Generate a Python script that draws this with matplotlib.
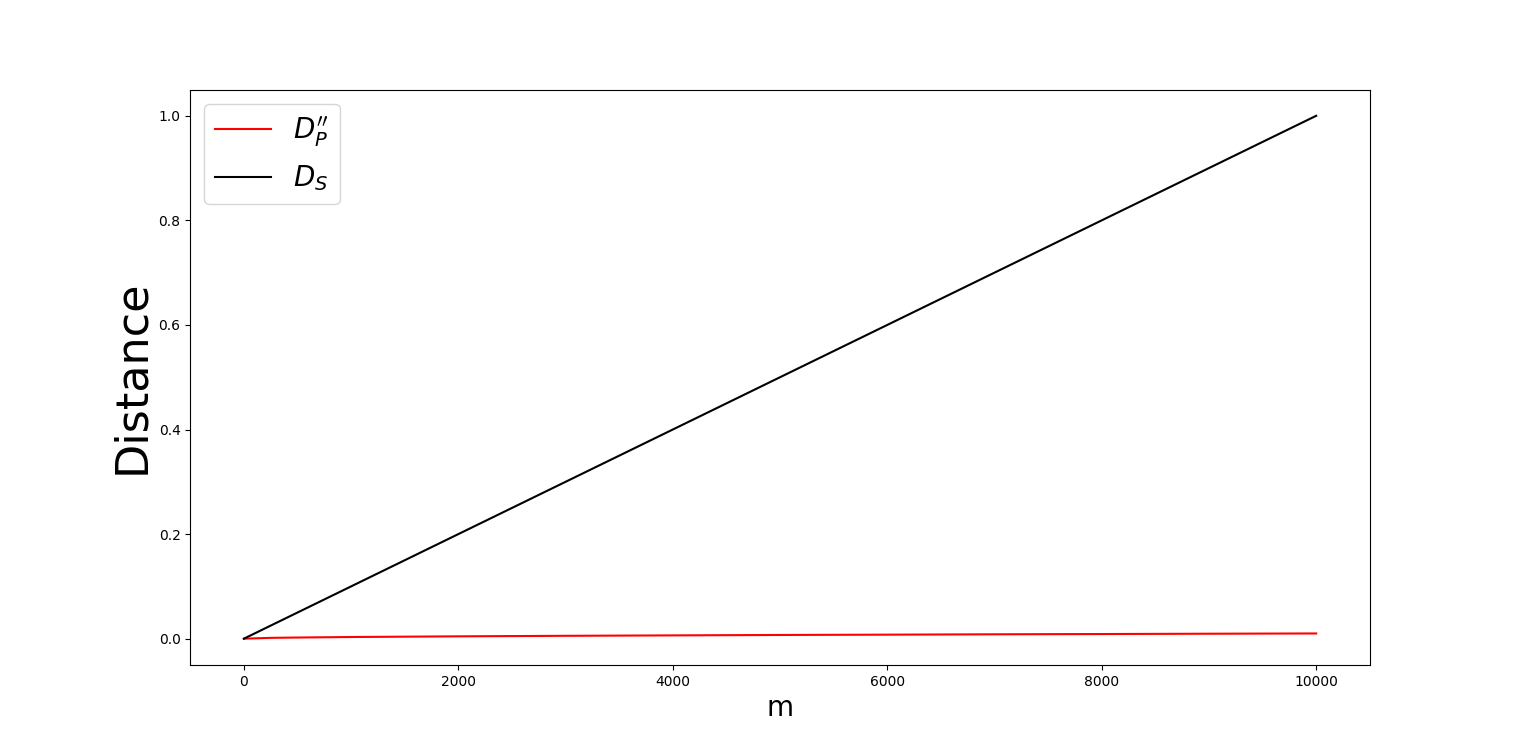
import matplotlib
matplotlib.use("Agg")
import matplotlib.pyplot as plt

# sample sizes
m = [0, 250, 500, 1000, 2000, 3000, 4000, 5000, 6000, 7000, 8000, 9000, 10000]
# D''_P distance
dp = [0.0, 0.0016, 0.0022, 0.0032, 0.0045, 0.0055, 0.0063, 0.0071, 0.0077, 0.0084, 0.0089, 0.0095, 0.0100]
# D_S distance
ds = [0.0, 0.025, 0.05, 0.1, 0.2, 0.3, 0.4, 0.5, 0.6, 0.7, 0.8, 0.9, 1.0]

fig = plt.figure(figsize=(15.22, 7.47), dpi=100)
ax = fig.add_subplot(111)
ax.plot(m, dp, color="red", label=r"$D_P''$")
ax.plot(m, ds, color="black", label=r"$D_S$")
ax.set_xlabel("m", fontsize=20)
ax.set_ylabel("Distance", fontsize=32)
ax.legend(fontsize=20, loc="upper left")
fig.savefig("out.png", dpi=100)
